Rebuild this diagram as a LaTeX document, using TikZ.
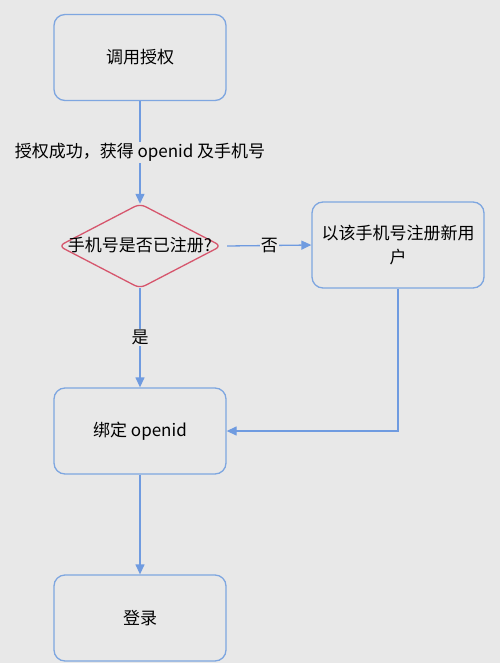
\documentclass[tikz,border=0pt]{standalone}
\usepackage{fontspec}
\setmainfont{Noto Sans CJK SC}
\usetikzlibrary{shapes.geometric,arrows.meta}
\definecolor{bg}{HTML}{E8E8E8}
\definecolor{bl}{HTML}{7EA6E0}
\definecolor{ar}{HTML}{6F9BE0}
\definecolor{rd}{HTML}{D6566D}
\begin{document}
\begin{tikzpicture}[x=1pt,y=-1pt,
  box/.style={draw=bl,line width=1.3pt,rounded corners=11pt,minimum width=172pt,minimum height=86pt,align=center,font=\fontsize{17}{24}\selectfont,inner sep=0pt},
  dec/.style={diamond,aspect=1.95,minimum width=162pt,minimum height=84pt,inner sep=0pt},
  conn/.style={draw=ar,line width=1.3pt,-{Triangle[length=10pt,width=9pt]}},
  lbl/.style={fill=bg,font=\fontsize{17}{22}\selectfont,inner sep=1pt}]
\fill[bg] (0,0) rectangle (500,663);
\useasboundingbox (0,0) rectangle (500,663);
\node[box] (a) at (140,57.5) {调用授权};
\node[dec] (d) at (140,246) {};
\draw[rd,line width=1.3pt,rounded corners=6pt] (d.north) -- (d.east) -- (d.south) -- (d.west) -- cycle;
\node[font=\fontsize{17}{22}\selectfont] (dt) at (140,245) {手机号是否已注册?};
\node[box] (n) at (398,245) {以该手机号注册新用\\户};
\node[box] (b) at (140,431) {绑定 openid};
\node[box] (l) at (140,618) {登录};
\draw[conn] (a) -- node[lbl] {授权成功，获得 openid 及手机号} (d.north);
\draw[conn] ([xshift=6pt]d.east) -- node[lbl] {否} (n.west);
\draw[conn] (d.south) -- node[lbl] {是} (b.north);
\draw[conn] (n.south) |- (b.east);
\draw[conn] (b) -- (l);
\end{tikzpicture}
\end{document}
